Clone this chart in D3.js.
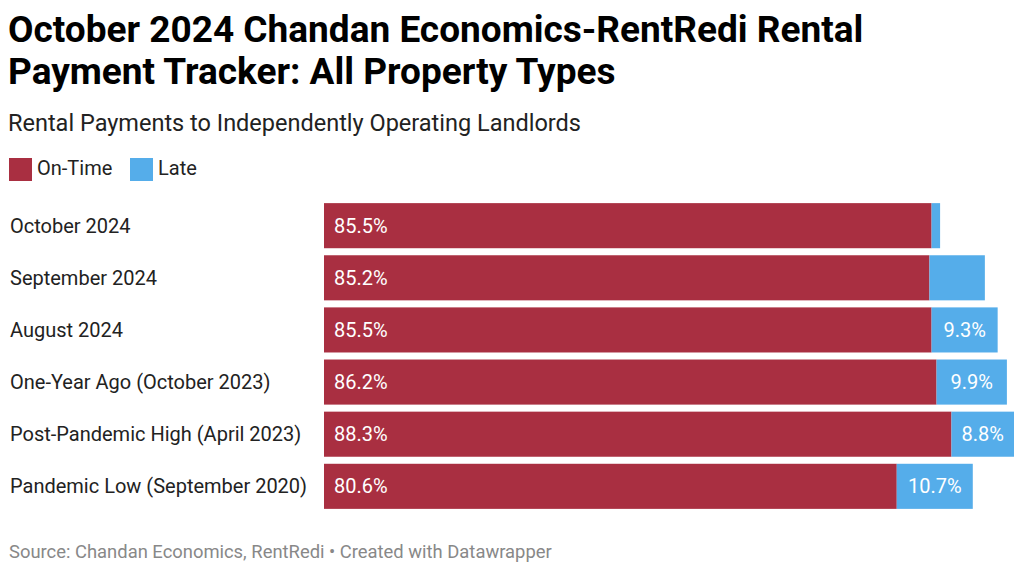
<!DOCTYPE html>
<html>
<head>
<meta charset="utf-8">
<script src="https://cdn.jsdelivr.net/npm/d3@7"></script>
<style>
  body { margin: 0; background: #fff; font-family: Roboto, "Noto Sans", sans-serif; }
</style>
</head>
<body>
<script>
// Data
const categories = ["October 2024", "September 2024", "August 2024", "One-Year Ago (October 2023)", "Post-Pandemic High (April 2023)", "Pandemic Low (September 2020)"];
const onTime = [85.5, 85.2, 85.5, 86.2, 88.3, 80.6];
const late = [1.2, 7.8, 9.3, 9.9, 8.8, 10.7];
const lateLabels = ["", "", "9.3%", "9.9%", "8.8%", "10.7%"];
const seriesNames = ["On-Time", "Late"];
const colors = ["#a92f41", "#55adea"];

const W = 1024, H = 574;
const svg = d3.select("body").append("svg").attr("width", W).attr("height", H);

// Titles
svg.append("text").attr("x", 8).attr("y", 42)
  .style("font-size", "37px").style("font-weight", "bold").attr("fill", "#000")
  .text("October 2024 Chandan Economics-RentRedi Rental");
svg.append("text").attr("x", 8).attr("y", 84)
  .style("font-size", "37px").style("font-weight", "bold").attr("fill", "#000")
  .text("Payment Tracker: All Property Types");
svg.append("text").attr("x", 8).attr("y", 131)
  .style("font-size", "23.5px").attr("fill", "#222")
  .text("Rental Payments to Independently Operating Landlords");

// Legend
const legendX = [9, 130];
seriesNames.forEach((s, i) => {
  svg.append("rect").attr("x", legendX[i]).attr("y", 158).attr("width", 23).attr("height", 23).attr("fill", colors[i]);
  svg.append("text").attr("x", legendX[i] + 28).attr("y", 175)
    .style("font-size", "20px").attr("fill", "#222").text(s);
});

// Scales
const x = d3.scaleLinear().domain([0, d3.max(onTime.map((v, i) => v + late[i]))]).range([324, 1014]);
const y = d3.scaleBand().domain(categories).range([200, 512]).paddingInner(0.135).paddingOuter(0.06);

const rows = svg.selectAll(".row").data(categories).enter().append("g").attr("class", "row");

rows.append("text").attr("x", 10).attr("y", d => y(d) + y.bandwidth() / 2 + 7)
  .style("font-size", "20px").attr("fill", "#222").text(d => d);

rows.append("rect").attr("x", x(0)).attr("y", d => y(d))
  .attr("width", (d, i) => x(onTime[i]) - x(0)).attr("height", y.bandwidth()).attr("fill", colors[0]);

rows.append("rect").attr("x", (d, i) => x(onTime[i])).attr("y", d => y(d))
  .attr("width", (d, i) => x(onTime[i] + late[i]) - x(onTime[i])).attr("height", y.bandwidth()).attr("fill", colors[1]);

rows.append("text").attr("x", x(0) + 10).attr("y", d => y(d) + y.bandwidth() / 2 + 7)
  .style("font-size", "20px").attr("fill", "#fff").text((d, i) => onTime[i].toFixed(1) + "%");

rows.append("text").attr("x", (d, i) => x(onTime[i] + late[i] / 2)).attr("y", d => y(d) + y.bandwidth() / 2 + 7)
  .attr("text-anchor", "middle")
  .style("font-size", "20px").attr("fill", "#fff").text((d, i) => lateLabels[i]);

// Footer
svg.append("text").attr("x", 9).attr("y", 558)
  .style("font-size", "18.4px").attr("fill", "#888")
  .text("Source: Chandan Economics, RentRedi • Created with Datawrapper");
</script>
</body>
</html>
